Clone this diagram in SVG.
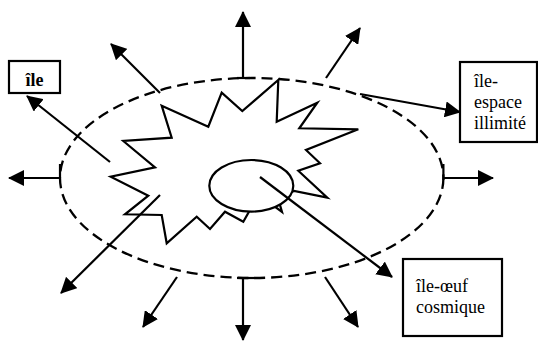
<svg xmlns="http://www.w3.org/2000/svg" width="538" height="341" viewBox="0 0 538 341">
<style>
.ln{stroke:#000;stroke-width:2.2;fill:none}
.dash{stroke:#000;stroke-width:2.3;fill:none;stroke-dasharray:11 6}
.box{stroke:#000;stroke-width:2.2;fill:#fff}
.t{font-family:"Liberation Serif","Times New Roman",serif;font-size:18px;fill:#000}
.b{font-weight:bold}
.arr{stroke:#000;stroke-width:2.2;fill:none;marker-end:url(#ah)}
</style>
<defs>
<marker id="ah" viewBox="0 0 16 16" markerWidth="16" markerHeight="16" markerUnits="userSpaceOnUse" refX="15" refY="8" orient="auto">
<path d="M0,0 L16,8 L0,16 z" fill="#000"/>
</marker>
</defs>
<rect width="538" height="341" fill="#fff"/>
<g id="outer-ellipse">
<ellipse class="dash" cx="251.7" cy="178" rx="191.7" ry="100"/>
<line class="ln" x1="237" y1="78" x2="250" y2="78"/>
<line class="ln" x1="237" y1="278" x2="256" y2="278"/>
<line class="ln" x1="60" y1="164" x2="60" y2="178"/>
<line class="ln" x1="443.4" y1="164" x2="443.4" y2="180"/>
</g>
<g id="star">
<polygon class="ln" stroke-linejoin="miter" points="278.3,80 276.7,121.7 317.3,102.7 299.3,128.3 358.3,129.3 306,150 320,163.3 298.3,170.7 327.3,197.7 294,191 278,198 282,212 270,203 250,210 243.3,221.7 225,211.7 210,229 196.7,216.7 166.7,243.3 161.7,215 125,214.3 148.3,195.7 110.7,176.7 155,167.3 123.3,141 171.7,137.7 161.7,105.7 208.3,126.7 221.7,92.7 242.3,111"/>
</g>
<g id="egg">
<ellipse cx="251.3" cy="185.8" rx="42" ry="25.8" fill="#fff" stroke="#000" stroke-width="2.2"/>
</g>
<g id="connectors">
<line class="arr" x1="243" y1="78" x2="243" y2="12"/>
<line class="arr" x1="160" y1="93" x2="111" y2="44"/>
<line class="arr" x1="326" y1="78" x2="360" y2="28"/>
<line class="arr" x1="360" y1="94" x2="460" y2="112"/>
<line class="arr" x1="110" y1="162" x2="27" y2="96"/>
<line class="arr" x1="60" y1="178" x2="9" y2="178"/>
<line class="arr" x1="443.4" y1="178" x2="493" y2="178"/>
<line class="arr" x1="160" y1="195" x2="61" y2="293"/>
<line class="arr" x1="260" y1="177" x2="392" y2="277"/>
<line class="arr" x1="177" y1="277" x2="143" y2="327"/>
<line class="arr" x1="243" y1="278" x2="243" y2="340"/>
<line class="arr" x1="325" y1="277" x2="358" y2="327"/>
</g>
<g id="node-ile">
<rect class="box" x="9" y="61" width="51" height="32"/>
<text class="t b" x="34.5" y="86" text-anchor="middle">île</text>
</g>
<g id="node-espace">
<rect class="box" x="460" y="62" width="77" height="80"/>
<text class="t" x="474" y="87">île-</text>
<text class="t" x="474" y="108">espace</text>
<text class="t" x="474" y="129">illimité</text>
</g>
<g id="node-oeuf">
<rect class="box" x="403" y="259" width="99" height="77"/>
<text class="t" x="416" y="292">île-œuf</text>
<text class="t" x="416" y="313">cosmique</text>
</g>
</svg>
